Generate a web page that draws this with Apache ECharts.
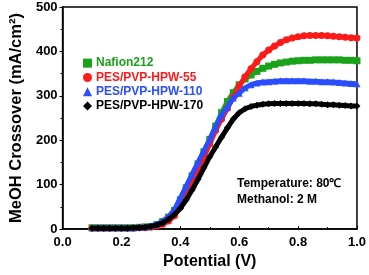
<!DOCTYPE html>
<html><head><meta charset="utf-8">
<script src="https://cdn.jsdelivr.net/npm/echarts@6/dist/echarts.min.js"></script>
<style>html,body{margin:0;padding:0;background:#fff}#c{width:369px;height:275px}</style>
</head><body><div id="c"></div>
<script>
const potential = [0.10,0.12,0.14,0.16,0.18,0.20,0.22,0.24,0.26,0.28,0.30,0.32,0.34,0.36,0.38,0.40,0.42,0.44,0.46,0.48,0.50,0.52,0.54,0.56,0.58,0.60,0.62,0.64,0.66,0.68,0.70,0.72,0.74,0.76,0.78,0.80,0.82,0.84,0.86,0.88,0.90,0.92,0.94,0.96,0.98,1.00];
const nafion212 = [3,3,3,3,3,3,3,3,4,5,6,10,17,27,42,66,93,120,147,174,202,232,262,287,307,325,338,347,355,362,367,371,374,376,378,379,380,380,381,381,381,381,381,380,380,379];
const hpw55 = [2,2,2,2,2,2,2,2,3,3,4,7,11,18,30,50,75,103,132,162,192,222,248,272,297,322,343,361,377,392,403,412,420,426,430,433,435,436,436,436,435,434,433,432,431,430];
const hpw110 = [3,3,3,3,3,3,3,3,4,5,7,11,18,28,44,70,97,124,150,176,202,230,257,275,295,306,318,325,329,331,332,333,334,334,334,334,334,333,333,332,332,331,330,329,328,327];
const hpw170 = [2,2,2,2,2,2,2,3,3,4,6,9,14,22,33,47,66,88,112,138,163,185,207,228,248,262,271,276,279,281,282,283,283,283,283,283,283,282,282,281,280,280,279,278,277,277];
const seriesNames = ['Nafion212','PES/PVP-HPW-55','PES/PVP-HPW-110','PES/PVP-HPW-170'];
const seriesColors = ['#1aa31a','#ff1a1a','#2a4dff','#000000'];
const seriesSymbols = ['rect','circle','triangle','diamond'];
const seriesData = [nafion212, hpw55, hpw110, hpw170];
const xTicks = [0.0,0.2,0.4,0.6,0.8,1.0];
const yTicks = [0,100,200,300,400,500];
const notes = ['Temperature: 80\u2103','Methanol: 2 M'];

const F = '"Liberation Sans", Arial, sans-serif';
const chart = echarts.init(document.getElementById('c'));
chart.setOption({
  animation: false,
  grid: {left: 52, right: 12, top: 7, bottom: 41, show: true, borderColor: '#000', borderWidth: 1.5, backgroundColor: 'transparent'},
  legend: {
    left: 78, top: 51, orient: 'vertical', itemWidth: 9, itemHeight: 9, itemGap: 0,
    data: seriesNames.map((n,i)=>({name:n, icon: seriesSymbols[i], textStyle:{color: seriesColors[i]}})),
    textStyle: {fontFamily: F, fontWeight: 'bold', fontSize: 12, lineHeight: 14.3, padding:[0,0,0,-1]}
  },
  xAxis: {
    type: 'value', min: 0, max: 1, interval: 0.2,
    name: 'Potential (V)', nameLocation: 'middle', nameGap: 23,
    nameTextStyle: {fontFamily: F, fontWeight: 'bold', fontSize: 16, color: '#000'},
    axisLine: {show: true, lineStyle: {color: '#000', width: 1.5}},
    axisTick: {show: true, inside: true, length: 3, lineStyle: {color: '#000'}},
    minorTick: {show: true, splitNumber: 2, length: 2, lineStyle: {color: '#000'}},
    splitLine: {show: false},
    axisLabel: {fontFamily: F, fontWeight: 'bold', fontSize: 13, color: '#000', margin: 7,
      formatter: v => v.toFixed(1)}
  },
  yAxis: {
    type: 'value', min: 0, max: 500, interval: 100,
    name: 'MeOH Crossover (mA/cm\u00b2)', nameLocation: 'middle', nameGap: 36,
    nameTextStyle: {fontFamily: F, fontWeight: 'bold', fontSize: 16.5, color: '#000'},
    axisLine: {show: true, lineStyle: {color: '#000', width: 1.5}},
    axisTick: {show: true, inside: false, length: 3, lineStyle: {color: '#000'}},
    minorTick: {show: true, splitNumber: 2, length: 2, lineStyle: {color: '#000'}},
    splitLine: {show: false},
    axisLabel: {fontFamily: F, fontWeight: 'bold', fontSize: 13, color: '#000', margin: 5}
  },
  graphic: notes.map((t,i)=>({type:'text', left: 237, top: 178 + i*16,
    style:{text: t, font: 'bold 12px "Liberation Sans", Arial, sans-serif', fill:'#000'}})),
  series: seriesData.map((d,i)=>({
    name: seriesNames[i], type: 'line',
    data: d.map((v,k)=>[potential[k], v]),
    symbol: seriesSymbols[i], symbolSize: 7, showSymbol: true,
    itemStyle: {color: seriesColors[i]},
    lineStyle: {color: seriesColors[i], width: 5},
    z: 2 + i
  }))
});
</script></body></html>
